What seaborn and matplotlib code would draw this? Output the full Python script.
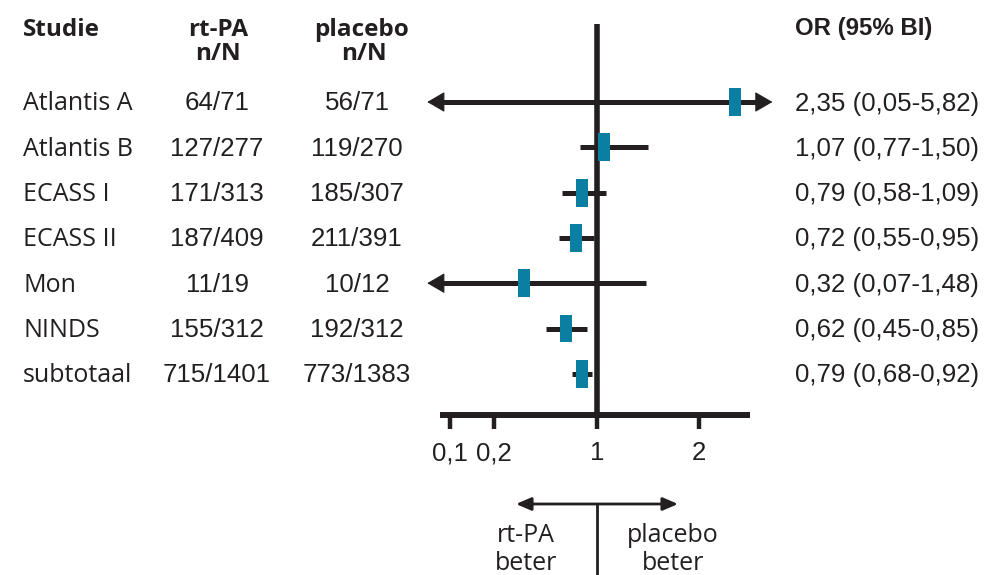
import numpy as np
import pandas as pd
import matplotlib
matplotlib.use("Agg")
import matplotlib.pyplot as plt
from matplotlib.path import Path
import seaborn as sns

studies = ['Atlantis A', 'Atlantis B', 'ECASS I', 'ECASS II', 'Mon', 'NINDS', 'subtotaal']
rtpa = ['64/71', '127/277', '171/313', '187/409', '11/19', '155/312', '715/1401']
placebo = ['56/71', '119/270', '185/307', '211/391', '10/12', '192/312', '773/1383']
odds = [2.35, 1.07, 0.79, 0.72, 0.32, 0.62, 0.79]
ci_lo = [0.05, 0.77, 0.58, 0.55, 0.07, 0.45, 0.68]
ci_hi = [5.82, 1.50, 1.09, 0.95, 1.48, 0.85, 0.92]
tick_vals = [0.1, 0.2, 1, 2]
tick_labels = ['0,1', '0,2', '1', '2']

INK = '#231f20'
BOX = '#0a7fa2'
HUMAN = 'Open Sans'
GROT = 'Liberation Sans'
FS = 18          # humanist text
FN = 18.6        # numbers

W, H = 989, 575
X1, UNIT, DEC = 597, 102.0, 147.0     # pixel of OR=1, px per unit (right), px per decade (left)
ROW0, ROWH = 102.0, 45.3


### left of 1 the axis is logarithmic, right of 1 it is linear
def fwd(x):
    x = np.asarray(x, dtype=float)
    lx = np.log10(np.clip(x, 1e-12, None)) * DEC / UNIT
    return np.where(x < 1, lx, x - 1)


def inv(u):
    u = np.asarray(u, dtype=float)
    return np.where(u < 0, 10 ** (np.minimum(u, 0) * UNIT / DEC), u + 1)


def xdat(px):
    return float(inv((px - X1) / UNIT))


def xpix(x):
    return X1 + UNIT * float(fwd(x))


def ydat(py):
    return (py - ROW0) / ROWH


sns.set_style('white')
fig = plt.figure(figsize=(W / 100, H / 100), dpi=100)
ax = fig.add_axes([0, 0, 1, 1])
ax.set_xscale('function', functions=(fwd, inv))

rows = np.arange(len(studies))

### reference line and axis
ax.vlines(1, ydat(24), ydat(418), color=INK, lw=4.0)
ax.hlines(ydat(415), xdat(440), xdat(750), color=INK, lw=4.3)
ax.vlines(tick_vals, ydat(413), ydat(429), color=INK, lw=3.2)
for v, lab in zip(tick_vals, tick_labels):
    ax.text(v, ydat(460), lab, ha='center', va='baseline', fontsize=FN, family=GROT, color=INK)

### confidence intervals, arrows where they run off the scale
ARROW_L, ARROW_R = 0.07, 2.72
for i in rows:
    lo, hi = ci_lo[i], ci_hi[i]
    left_arrow = lo < tick_vals[0]
    right_arrow = hi > ARROW_R
    lo_d = max(lo, ARROW_L)
    hi_d = min(hi, ARROW_R)
    a = xdat(xpix(lo_d) + 12) if left_arrow else lo_d
    b = xdat(xpix(hi_d) - 12) if right_arrow else hi_d
    ax.hlines(i, a, b, color=INK, lw=3.6)
    for tip, off, on in [(lo_d, 30, left_arrow), (hi_d, -30, right_arrow)]:
        if on:
            ax.annotate('', xy=(tip, i), xytext=(off, 0), textcoords='offset pixels',
                        arrowprops=dict(arrowstyle='-|>,head_length=0.62,head_width=0.36',
                                        mutation_scale=18, lw=0.8, color=INK,
                                        shrinkA=0, shrinkB=0))

### study boxes
box = Path([(-6, -14), (6, -14), (6, 14), (-6, 14), (-6, -14)],
           [Path.MOVETO, Path.LINETO, Path.LINETO, Path.LINETO, Path.CLOSEPOLY])
df = pd.DataFrame({'odds': odds, 'row': rows})
sns.scatterplot(data=df, x='odds', y='row', marker=box, s=406, color=BOX,
                edgecolor='none', linewidth=0, ax=ax, legend=False, zorder=5)

### table text
tx = ax.get_yaxis_transform()
for i in rows:
    yb = i + 8.5 / ROWH
    ax.text(23 / W, yb, studies[i], transform=tx, ha='left', va='baseline',
            fontsize=FS, family=HUMAN, color=INK)
    ax.text(217 / W, yb, rtpa[i], transform=tx, ha='center', va='baseline',
            fontsize=FN, family=GROT, color=INK)
    ax.text(357 / W, yb, placebo[i], transform=tx, ha='center', va='baseline',
            fontsize=FN, family=GROT, color=INK)
    txt = f'{odds[i]:.2f} ({ci_lo[i]:.2f}-{ci_hi[i]:.2f})'.replace('.', ',')
    ax.text(795 / W, yb, txt, transform=tx, ha='left', va='baseline',
            fontsize=FN, family=GROT, color=INK)

### headers
ax.text(23 / W, ydat(36), 'Studie', transform=tx, ha='left', va='baseline',
        fontsize=FS - 0.5, family=HUMAN, weight='bold', color=INK)
ax.text(218 / W, ydat(36), 'rt-PA', transform=tx, ha='center', va='baseline',
        fontsize=FS - 0.5, family=HUMAN, weight='bold', color=INK)
ax.text(218 / W, ydat(60), 'n/N', transform=tx, ha='center', va='baseline',
        fontsize=FS - 0.5, family=HUMAN, weight='bold', color=INK)
ax.text(361 / W, ydat(36), 'placebo', transform=tx, ha='center', va='baseline',
        fontsize=FS - 0.5, family=HUMAN, weight='bold', color=INK)
ax.text(364 / W, ydat(60), 'n/N', transform=tx, ha='center', va='baseline',
        fontsize=FS - 0.5, family=HUMAN, weight='bold', color=INK)
ax.text(795 / W, ydat(35), 'OR (95% BI)', transform=tx, ha='left', va='baseline',
        fontsize=17.3, family=GROT, weight='bold', color=INK)

### favours-arrow below the axis
ax.annotate('', xy=(xdat(516), ydat(504)), xytext=(xdat(678), ydat(504)),
            arrowprops=dict(arrowstyle='<|-|>,head_length=0.7,head_width=0.3',
                            mutation_scale=13, lw=2.0, color=INK, shrinkA=0, shrinkB=0))
ax.vlines(1, ydat(504), ydat(580), color=INK, lw=2.0)
ax.text(xdat(526), ydat(542), 'rt-PA', ha='center', va='baseline', fontsize=FS, family=HUMAN, color=INK)
ax.text(xdat(526), ydat(570), 'beter', ha='center', va='baseline', fontsize=FS, family=HUMAN, color=INK)
ax.text(xdat(673), ydat(542), 'placebo', ha='center', va='baseline', fontsize=FS, family=HUMAN, color=INK)
ax.text(xdat(673), ydat(570), 'beter', ha='center', va='baseline', fontsize=FS, family=HUMAN, color=INK)

ax.set_xlim(xdat(0), xdat(W))
ax.set_ylim(ydat(H), ydat(0))
ax.axis('off')
fig.savefig('out.png', dpi=100)
